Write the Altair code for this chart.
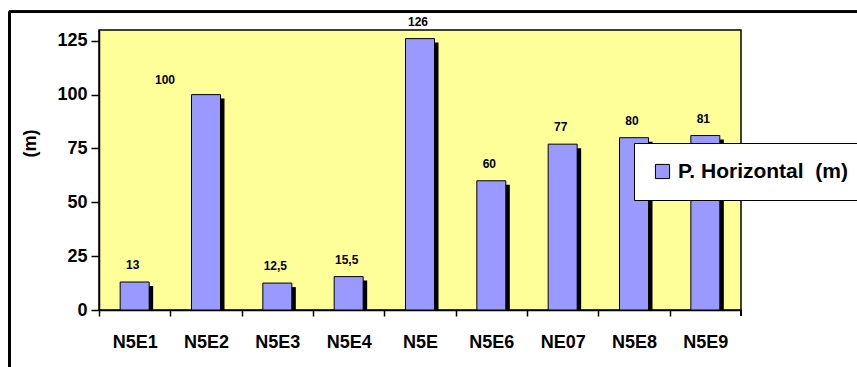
import altair as alt
import pandas as pd

# Horizontal distance per station (m)
stations = ["N5E1", "N5E2", "N5E3", "N5E4", "N5E", "N5E6", "NE07", "N5E8", "N5E9"]
values = [13, 100, 12.5, 15.5, 126, 60, 77, 80, 81]
series_name = "P. Horizontal\u00a0 (m)"
y_ticks = [0, 25, 50, 75, 100, 125]

df = pd.DataFrame({"station": stations, "value": values, "serie": series_name})

FONT = "Liberation Sans"
W, H = 642, 280
HALF_BAND = W / 18

x_enc = alt.X(
    "station:N",
    sort=None,
    title=None,
    axis=alt.Axis(
        labelAngle=0,
        labelFont=FONT,
        labelFontSize=18,
        labelFontWeight="bold",
        labelColor="black",
        labelPadding=17,
        tickOffset=-HALF_BAND,
        labelOffset=HALF_BAND,
        tickSize=6,
        tickColor="black",
        tickWidth=1.5,
        domainColor="black",
        domainWidth=1.5,
    ),
)
y_enc = alt.Y(
    "value:Q",
    scale=alt.Scale(domain=[0, 130], nice=False),
    title="(m)",
    axis=alt.Axis(
        values=y_ticks,
        grid=False,
        labelFont=FONT,
        labelFontSize=18,
        labelFontWeight="bold",
        labelColor="black",
        labelPadding=4,
        tickSize=8,
        tickColor="black",
        tickWidth=1.5,
        domainColor="black",
        domainWidth=1.5,
        titleFont=FONT,
        titleFontSize=18,
        titleFontWeight="bold",
        titleColor="black",
        titleAngle=270,
        titleX=-69,
        titleY=113,
        titleAlign="center",
        titleBaseline="middle",
    ),
)

base = alt.Chart(df)

# drop shadow behind each bar
shadow = base.mark_bar(
    width=29, color="black", xOffset=4, x2Offset=4, yOffset=4, y2Offset=4, clip=True
).encode(x=x_enc, y=y_enc)

bars = base.mark_bar(width=29, stroke="black", strokeWidth=1).encode(
    x=x_enc,
    y=y_enc,
    color=alt.Color(
        "serie:N",
        scale=alt.Scale(range=["#9999FF"]),
        legend=alt.Legend(
            title=None,
            orient="none",
            legendX=535,
            legendY=113,
            fillColor="white",
            strokeColor="black",
            padding=18,
            symbolType="square",
            symbolSize=200,
            symbolStrokeColor="black",
            symbolStrokeWidth=1,
            labelFont=FONT,
            labelFontSize=21,
            labelFontWeight="bold",
            labelColor="black",
            labelOffset=5,
            labelLimit=400,
        ),
    ),
)

label_style = dict(font=FONT, fontSize=12, fontWeight="bold", color="black", baseline="middle")

labels = (
    base.transform_filter(alt.datum.station != "N5E2")
    .transform_calculate(txt="replace(toString(datum.value), '.', ',')")
    .mark_text(dx=-2, dy=-17, **label_style)
    .encode(x=x_enc, y=y_enc, text="txt:N")
)
label_n5e2 = (
    base.transform_filter(alt.datum.station == "N5E2")
    .transform_calculate(txt="replace(toString(datum.value), '.', ',')")
    .mark_text(dx=-41, dy=-15, **label_style)
    .encode(x=x_enc, y=y_enc, text="txt:N")
)

# closing tick at the right end of the category axis
end_tick = base.mark_rule(color="black", strokeWidth=1.5).encode(
    x=alt.value(W), y=alt.value(H), y2=alt.value(H + 6)
)

# outer chart frame (top and left edges)
frame_top = base.mark_rule(color="black", strokeWidth=2).encode(
    x=alt.value(-90), x2=alt.value(800), y=alt.value(-18.2)
)
frame_left = base.mark_rule(color="black", strokeWidth=2).encode(
    x=alt.value(-89.5), y=alt.value(-18.2), y2=alt.value(400)
)

chart = (
    alt.layer(frame_top, frame_left, shadow, bars, labels, label_n5e2, end_tick)
    .properties(
        width=W,
        height=H,
        autosize=alt.AutoSizeParams(type="none"),
        padding={"left": 99, "top": 30, "right": 116, "bottom": 57},
        background="white",
    )
    .configure_view(fill="#FFFF99", stroke="black", strokeWidth=1.5)
)

chart.save("out.html", embed_options={"renderer": "svg", "actions": False})
